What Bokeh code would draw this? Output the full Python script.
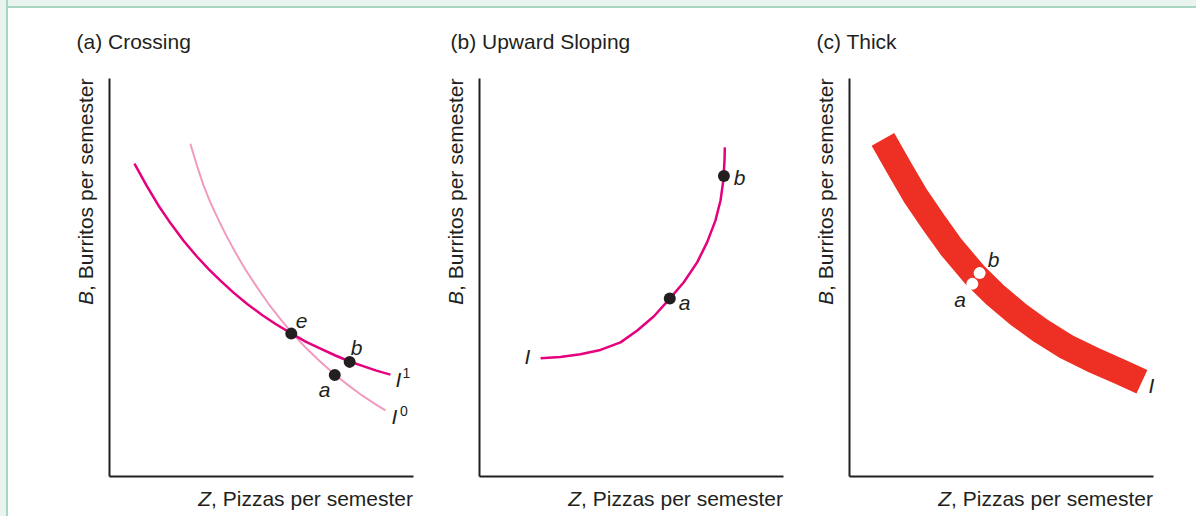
import math
from bokeh.plotting import figure
from bokeh.models import Range1d, Label, FixedTicker
from bokeh.layouts import row
from bokeh.embed import file_html
from bokeh.resources import INLINE

# ---------------- data (arbitrary units, axes 0..10) ----------------
# Panel (a) Crossing
a_i1_z = [0.82, 1.22, 1.61, 2.01, 2.43, 2.86, 3.26, 3.65, 4.08, 4.54, 5.03, 5.49, 5.95,
          6.45, 6.94, 7.43, 7.90, 8.32, 8.78, 9.24]
a_i1_b = [7.86, 7.31, 6.81, 6.36, 5.93, 5.54, 5.21, 4.92, 4.62, 4.33, 4.05, 3.82, 3.61,
          3.39, 3.21, 3.04, 2.89, 2.78, 2.66, 2.56]
a_i0_z = [2.66, 2.86, 3.09, 3.32, 3.59, 3.85, 4.15, 4.47, 4.84, 5.23, 5.63, 6.02, 6.45,
          6.91, 7.40, 7.86, 8.32, 8.78, 9.08]
a_i0_b = [8.36, 7.85, 7.32, 6.88, 6.44, 6.04, 5.62, 5.20, 4.77, 4.34, 3.95, 3.59, 3.24,
          2.90, 2.57, 2.29, 2.03, 1.80, 1.66]
a_pt_names = ["e", "b", "a"]
a_pt_z = [5.98, 7.90, 7.41]
a_pt_b = [3.59, 2.88, 2.55]

# Panel (b) Upward Sloping
b_i_z = [2.01, 2.66, 3.32, 3.98, 4.64, 5.19, 5.73, 6.26, 6.72, 7.16, 7.49, 7.76, 7.93,
         8.02, 8.06, 8.07]
b_i_b = [2.97, 3.00, 3.07, 3.18, 3.37, 3.67, 4.02, 4.47, 4.88, 5.38, 5.89, 6.43, 6.94,
         7.44, 7.94, 8.27]
b_pt_names = ["a", "b"]
b_pt_z = [6.26, 8.04]
b_pt_b = [4.47, 7.55]

# Panel (c) Thick
c_i_z = [1.10, 1.68, 2.17, 2.77, 3.32, 4.09, 4.75, 5.52, 6.28, 7.16, 8.04, 8.91, 9.62]
c_i_b = [8.47, 7.69, 7.05, 6.38, 5.79, 5.09, 4.59, 4.09, 3.67, 3.25, 2.92, 2.63, 2.38]
c_pt_names = ["a", "b"]
c_pt_z = [4.04, 4.28]
c_pt_b = [4.84, 5.11]

titles = ["(a) Crossing", "(b) Upward Sloping", "(c) Thick"]
x_label = ("Z", ", Pizzas per semester")
y_label = ("B", ", Burritos per semester")

# ---------------- style / layout ----------------
INK = "#231f20"
MAGENTA = "#e5007d"
PINK = "#f29bc1"
RED = "#ee2f24"
PALE = "#e9f4ef"
FRAME_GREEN = "#a7d7c0"
FONT = "Liberation Sans"
FS = 21

AX_TOP = 78
AX_BOTTOM = 476
XS = 304 / 10.0     # px per unit
YS = 398 / 10.0
FB = 10
FB_BOTTOM = 3
EDGE = 8            # width of the decorative frame strip (top / left)
CANVAS_TOP = EDGE
H = 508


def make_panel(canvas_left, width, axis_left):
    fl = canvas_left + FB
    fr = canvas_left + width - FB
    ft = CANVAS_TOP + FB
    fbm = CANVAS_TOP + H - FB_BOTTOM
    xr = Range1d((fl - axis_left) / XS, (fr - axis_left) / XS)
    yr = Range1d((AX_BOTTOM - fbm) / YS, (AX_BOTTOM - ft) / YS)
    p = figure(width=width, height=H, x_range=xr, y_range=yr,
               output_backend="svg", toolbar_location=None, tools="",
               min_border_left=FB, min_border_right=FB,
               min_border_top=FB, min_border_bottom=FB_BOTTOM)
    p.outline_line_color = None
    p.grid.visible = False
    p.background_fill_color = "white"
    p.border_fill_color = "white"
    for ax in (p.xaxis[0], p.yaxis[0]):
        ax.ticker = FixedTicker(ticks=[])
        ax.major_tick_line_color = None
        ax.minor_tick_line_color = None
        ax.major_tick_out = 0
        ax.major_tick_in = 0
        ax.minor_tick_out = 0
        ax.minor_tick_in = 0
        ax.major_label_standoff = 0
        ax.axis_label_standoff = 0
        ax.major_label_text_font_size = "0px"
        ax.axis_line_color = INK
        ax.axis_line_width = 2
        ax.fixed_location = 0
        ax.bounds = (0, 10)
    return p


def lab(p, pl, px, py, text, size=FS, style="italic", align="center", angle=0.0):
    """px, py: page position of the text baseline (horizontal) / baseline x (rotated)."""
    shift = 0.34 * size
    if angle == 0.0:
        ax_, ay_ = px, py - shift
    else:
        ax_, ay_ = px - shift, py
    p.add_layout(Label(x=(ax_ - pl) / XS, y=(AX_BOTTOM - ay_) / YS, text=text,
                       text_font=FONT, text_font_size=f"{size}px", text_font_style=style,
                       text_color=INK, text_align=align, text_baseline="alphabetic",
                       angle=angle))


def decorate(p, pl, title, title_dx):
    lab(p, pl, pl + title_dx, 48, title, style="normal", align="left")
    xend = pl + 303.5
    rest_w = 9.614 * FS
    lab(p, pl, xend, 505, x_label[1], style="normal", align="right")
    lab(p, pl, xend - rest_w, 505, x_label[0], style="italic", align="right")
    yrest_w = 10.114 * FS
    lab(p, pl, pl - 17, AX_TOP, y_label[1], style="normal", align="right", angle=math.pi / 2)
    lab(p, pl, pl - 17, AX_TOP + yrest_w, y_label[0], style="italic", align="right", angle=math.pi / 2)


# Panel a
PLA = 109
pa = make_panel(EDGE, 428 - EDGE, PLA)
pa.line(a_i0_z, a_i0_b, line_color=PINK, line_width=2, line_join="round")
pa.line(a_i1_z, a_i1_b, line_color=MAGENTA, line_width=2.5, line_join="round")
pa.scatter(a_pt_z, a_pt_b, size=12, fill_color=INK, line_color=None)
decorate(pa, PLA, titles[0], -33)
lab(pa, PLA, 301, 328, "e")
lab(pa, PLA, 356, 354, "b")
lab(pa, PLA, 324, 396, "a")
lab(pa, PLA, 398, 386, "I")
lab(pa, PLA, 406, 377, "1", size=14, style="normal")
lab(pa, PLA, 394, 423, "I")
lab(pa, PLA, 403.5, 415, "0", size=14, style="normal")

# Panel b
PLB = 479
pb = make_panel(428, 370, PLB)
pb.line(b_i_z, b_i_b, line_color=MAGENTA, line_width=2.5, line_join="round")
pb.scatter(b_pt_z, b_pt_b, size=12, fill_color=INK, line_color=None)
decorate(pb, PLB, titles[1], -29)
lab(pb, PLB, 739, 184, "b")
lab(pb, PLB, 684, 309, "a")
lab(pb, PLB, 527, 363, "I")

# Panel c
PLC = 849
pc = make_panel(798, 398, PLC)
pc.line(c_i_z, c_i_b, line_color=RED, line_width=26, line_join="round", line_cap="butt")
pc.scatter(c_pt_z, c_pt_b, size=12, fill_color="white", line_color=None)
decorate(pc, PLC, titles[2], -33)
lab(pc, PLC, 993, 266, "b")
lab(pc, PLC, 959.5, 306, "a")
lab(pc, PLC, 1151, 392, "I")

frame_bg = (f"linear-gradient(to right, {PALE} 6px, {FRAME_GREEN} 6px, {FRAME_GREEN} 8px, transparent 8px), "
            f"linear-gradient(to bottom, {PALE} 6px, {FRAME_GREEN} 6px, {FRAME_GREEN} 8px, transparent 8px)")
layout = row(pa, pb, pc, spacing=0,
             styles={"border-top": f"{EDGE}px solid transparent",
                     "border-left": f"{EDGE}px solid transparent",
                     "background-image": frame_bg,
                     "background-origin": "border-box",
                     "background-clip": "border-box"})

open("out.html", "w").write(file_html(layout, INLINE))
